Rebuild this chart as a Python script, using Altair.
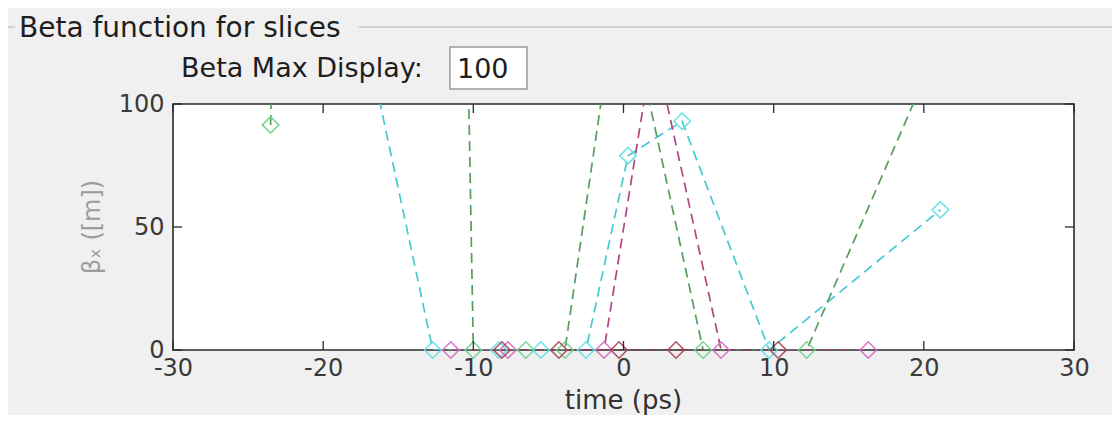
import altair as alt
import pandas as pd

# ---- data ----
series_names = ["cyan", "green", "magenta", "darkred"]

cyan_t = [-17.6, -12.7, -8.3, -5.5, -2.5, 0.3, 3.9, 9.7, 21.1]
cyan_b = [140, 0, 0, 0, 0, 79, 93, 0, 57]

green_t = [-23.5, -16.0, -10.0, -6.5, -3.9, -0.2, 5.3, 12.2, 20.0]
green_b = [91.5, 2000, 0, 0, 0, 155, 0, 0, 110]

magenta_t = [-11.5, -7.7, -1.3, 2.0, 6.5, 16.3]
magenta_b = [0, 0, 0, 125, 0, 0]

darkred_t = [-8.1, -4.3, -0.3, 3.5, 10.3]
darkred_b = [0, 0, 0, 0, 0]

x_ticks = [-30, -20, -10, 0, 10, 20, 30]
y_ticks = [0, 50, 100]

line_colors = ["#45cad2", "#569e5c", "#b24683", "#8f3242"]
marker_colors = ["#5fe0e6", "#6ed38a", "#d36bc0", "#a84455"]

rows = []
for name, ts, bs in [("cyan", cyan_t, cyan_b), ("green", green_t, green_b),
                     ("magenta", magenta_t, magenta_b), ("darkred", darkred_t, darkred_b)]:
    for i, (t, b) in enumerate(zip(ts, bs)):
        rows.append({"series": name, "t": t, "beta": b, "i": i})
df = pd.DataFrame(rows)

W, H = 901, 246
FONT = "DejaVu Sans"
xscale = alt.Scale(domain=[-30, 30], nice=False, zero=False)
yscale = alt.Scale(domain=[0, 100], nice=False, zero=False)

xaxis = alt.Axis(values=x_ticks, title=None, ticks=False, domain=False, grid=False,
                 labelFlush=False, labelOverlap=False, labelPadding=6,
                 labelExpr="replace(datum.label, '\u2212', '-')",
                 labelFontSize=24, labelFont=FONT, labelColor="#3a3a3a")
yaxis = alt.Axis(values=y_ticks, title=None, ticks=False, domain=False, grid=False,
                 labelFlush=False, labelOverlap=False, labelPadding=9,
                 labelFontSize=24, labelFont=FONT, labelColor="#3a3a3a")

X = lambda: alt.X("t:Q", scale=xscale, axis=xaxis)
Y = lambda: alt.Y("beta:Q", scale=yscale, axis=yaxis)

lines = alt.Chart(df).mark_line(clip=True, strokeDash=[10, 6], strokeWidth=1.7).encode(
    x=X(), y=Y(),
    color=alt.Color("series:N", scale=alt.Scale(domain=series_names, range=line_colors), legend=None),
    detail="series:N",
    order="i:Q",
)

points = alt.Chart(df).transform_filter(alt.datum.beta <= 100).mark_point(
    shape="diamond", filled=False, size=270, strokeWidth=1.6, opacity=0.9
).encode(
    x=X(), y=Y(),
    stroke=alt.Stroke("series:N", scale=alt.Scale(domain=series_names, range=marker_colors), legend=None),
)

xt = pd.DataFrame({"t": x_ticks})
yt = pd.DataFrame({"beta": y_ticks})
tick_style = dict(color="#2b2b2b", strokeWidth=1.3)
bottom_ticks = alt.Chart(xt).mark_rule(**tick_style).encode(
    x=X(), y=alt.value(H), y2=alt.value(H - 9))
top_ticks = alt.Chart(xt).mark_rule(**tick_style).encode(
    x=X(), y=alt.value(0), y2=alt.value(9))
left_ticks = alt.Chart(yt).mark_rule(**tick_style).encode(
    y=Y(), x=alt.value(0), x2=alt.value(9))
right_ticks = alt.Chart(yt).mark_rule(**tick_style).encode(
    y=Y(), x=alt.value(W), x2=alt.value(W - 9))

one = pd.DataFrame({"a": [0]})

# panel frame (GUI group box)
frame_color = "#c4c4c4"
frame_top_left = alt.Chart(one).mark_rule(color=frame_color, strokeWidth=1.5).encode(
    x=alt.value(-168), x2=alt.value(-158), y=alt.value(-77))
frame_top_right = alt.Chart(one).mark_rule(color=frame_color, strokeWidth=1.5).encode(
    x=alt.value(186), x2=alt.value(940), y=alt.value(-77))
frame_left = alt.Chart(one).mark_rule(color=frame_color, strokeWidth=1.5).encode(
    x=alt.value(-168), y=alt.value(-77), y2=alt.value(305))

panel_title = alt.Chart(one).mark_text(
    text="Beta function for slices", font=FONT, fontSize=28, color="#1e1e1e",
    align="left", baseline="alphabetic"
).encode(x=alt.value(-154), y=alt.value(-67))

beta_max_label = alt.Chart(one).mark_text(
    text="Beta Max Display:", font=FONT, fontSize=27, color="#1e1e1e",
    align="left", baseline="alphabetic"
).encode(x=alt.value(8), y=alt.value(-27))

box = alt.Chart(one).mark_rect(fill="white", stroke="#9a9a9a", strokeWidth=1.5).encode(
    x=alt.value(277), x2=alt.value(354), y=alt.value(-57), y2=alt.value(-15))

box_text = alt.Chart(one).mark_text(
    text="100", font=FONT, fontSize=27, color="#1e1e1e", align="left", baseline="alphabetic"
).encode(x=alt.value(284), y=alt.value(-26))

y_title = alt.Chart(one).mark_text(
    text="βₓ ([m])", font=FONT, fontSize=24, color="#9c9c9c", angle=270,
    align="center", baseline="middle"
).encode(x=alt.value(-80), y=alt.value(123))

x_title = alt.Chart(one).mark_text(
    text="time (ps)", font=FONT, fontSize=26, color="#333333", align="center", baseline="alphabetic"
).encode(x=alt.value(W / 2), y=alt.value(305))

chart = alt.layer(
    lines, points, bottom_ticks, top_ticks, left_ticks, right_ticks,
    frame_top_left, frame_top_right, frame_left, panel_title, beta_max_label,
    box, box_text, y_title, x_title
).properties(
    width=W, height=H,
    autosize=alt.AutoSizeParams(type="none"),
    padding={"left": 165, "top": 96, "right": 38, "bottom": 65},
    background="#f0f0f0",
).configure_view(
    fill="white", stroke="#2b2b2b", strokeWidth=1.6
)

chart.save("out.html", embed_options={"renderer": "svg", "actions": False})
